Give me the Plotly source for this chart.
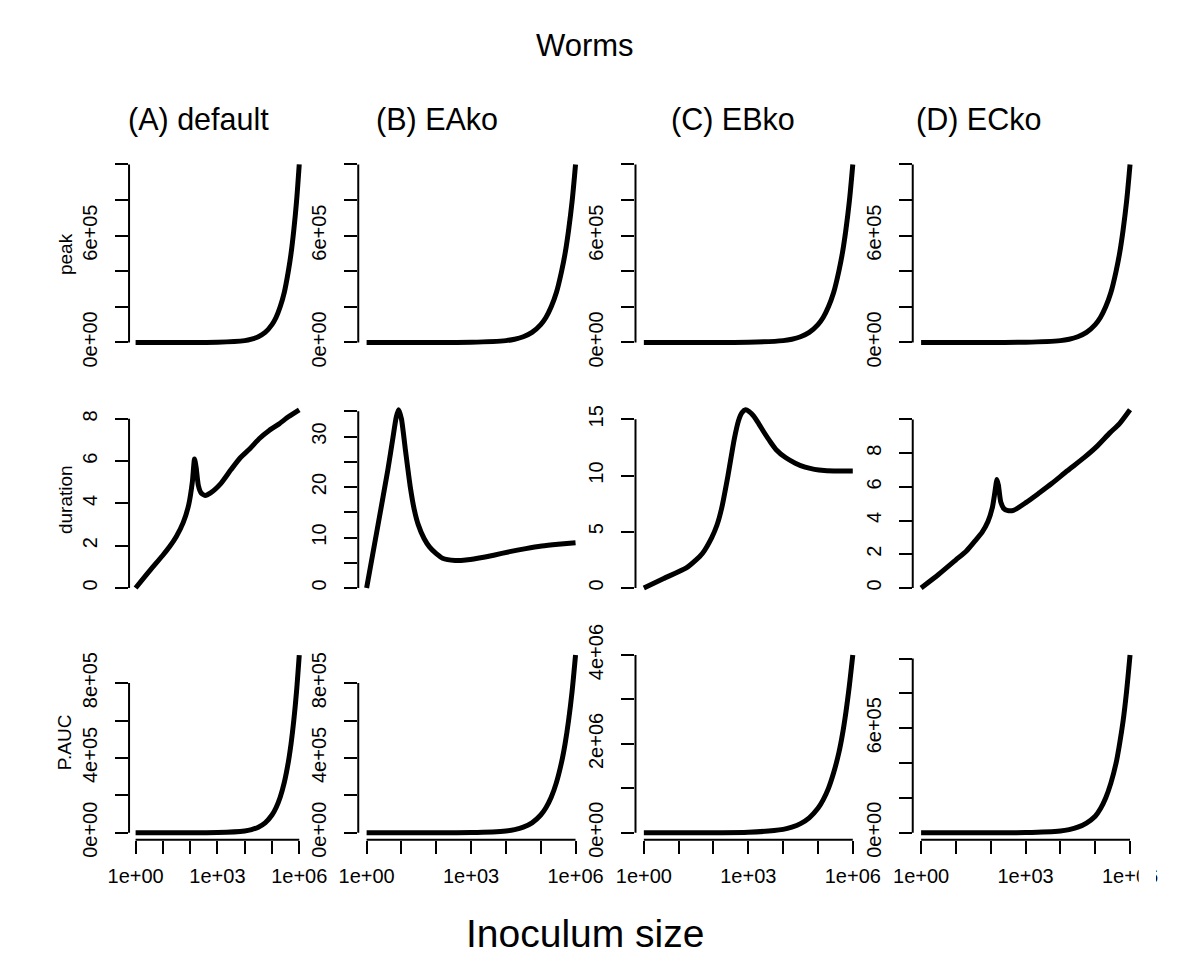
import math
import plotly.graph_objects as go

FONT = "Liberation Sans, Arial, Helvetica, sans-serif"
W, H = 1178, 980

panel_titles = ["(A) default", "(B) EAko", "(C) EBko", "(D) ECko"]
metric_names = ["peak", "duration", "P.AUC"]

# inoculum sizes for the peak and P.AUC curves
inoc_grid = [1, 10, 100, 1000, 1e4, 1.78e4, 3.16e4, 5.62e4, 1e5, 1.41e5, 2e5,
             2.82e5, 3.98e5, 5.01e5, 6.31e5, 7.94e5, 1e6]

peak_A = [1, 10, 100, 1000, 1.0e4, 1.8e4, 3.2e4, 5.6e4, 1.0e5, 1.4e5, 2.0e5,
          2.8e5, 4.0e5, 5.0e5, 6.3e5, 7.9e5, 1.0e6]
peak_B = [1, 10, 100, 1000, 1.0e4, 1.8e4, 3.2e4, 5.6e4, 1.0e5, 1.4e5, 2.0e5,
          2.8e5, 4.0e5, 5.0e5, 6.3e5, 7.9e5, 1.0e6]
peak_C = [1, 10, 100, 1000, 1.0e4, 1.8e4, 3.2e4, 5.6e4, 1.0e5, 1.4e5, 2.0e5,
          2.8e5, 4.0e5, 5.0e5, 6.3e5, 7.9e5, 1.0e6]
peak_D = [1, 10, 100, 1000, 1.0e4, 1.8e4, 3.2e4, 5.6e4, 1.0e5, 1.4e5, 2.0e5,
          2.8e5, 4.0e5, 5.0e5, 6.3e5, 7.9e5, 1.0e6]

pauc_A = [1, 10, 95, 950, 9.5e3, 1.7e4, 3.0e4, 5.3e4, 9.5e4, 1.34e5, 1.9e5,
          2.68e5, 3.78e5, 4.76e5, 6.0e5, 7.54e5, 9.5e5]
pauc_B = [1, 10, 95, 950, 9.5e3, 1.7e4, 3.0e4, 5.3e4, 9.5e4, 1.34e5, 1.9e5,
          2.68e5, 3.78e5, 4.76e5, 6.0e5, 7.54e5, 9.5e5]
pauc_C = [28, 200, 1450, 1.05e4, 7.6e4, 1.25e5, 2.05e5, 3.36e5, 5.5e5, 7.4e5, 1.0e6,
          1.35e6, 1.8e6, 2.2e6, 2.7e6, 3.3e6, 4.0e6]
pauc_D = [1, 10, 100, 1000, 1.0e4, 1.8e4, 3.2e4, 5.6e4, 9.5e4, 1.38e5, 2.0e5,
          2.85e5, 4.0e5, 5.1e5, 6.4e5, 8.1e5, 1.02e6]

# duration curves (inoculum, days)
dur_A_x = [1, 3.2, 10, 17.8, 31.6, 56, 89, 120, 145, 166, 200, 251, 355, 562,
           1350, 3160, 6900, 1.58e4, 3.47e4, 7.9e4, 1.78e5, 4.0e5, 1e6]
dur_A = [0, 0.8, 1.55, 1.96, 2.45, 3.1, 3.95, 5.0, 6.1, 5.7, 4.85, 4.5, 4.38, 4.5,
         4.95, 5.6, 6.16, 6.6, 7.07, 7.45, 7.75, 8.1, 8.43]

dur_B_x = [1, 2.14, 4.07, 5.62, 7.08, 8.32, 10, 13.2, 17.8, 23.4, 30.2, 44.7, 64.6,
           100, 151, 347, 708, 1550, 4470, 1.29e4, 3.72e4, 1.07e5, 3.16e5, 1e6]
dur_B = [0, 12.6, 23.4, 29.5, 33.8, 35.3, 33.5, 27.0, 20.2, 15.5, 12.6, 9.8, 8.1,
         6.8, 5.9, 5.46, 5.55, 5.9, 6.5, 7.2, 7.8, 8.3, 8.65, 8.96]

dur_C_x = [1, 3.72, 16.6, 31.6, 47.9, 89, 126, 170, 257, 398, 525, 661, 832, 1050,
           1410, 2000, 2820, 4070, 6310, 1.17e4, 2.24e4, 4.27e4, 7.94e4, 1.51e5, 3.98e5, 1e6]
dur_C = [0, 0.85, 1.79, 2.5, 3.07, 4.49, 5.6, 7.05, 9.9, 13.3, 14.9, 15.6, 15.85, 15.7,
         15.3, 14.6, 13.85, 13.1, 12.3, 11.6, 11.1, 10.74, 10.55, 10.45, 10.4, 10.4]

dur_D_x = [1, 3.16, 10, 20, 35.5, 56.2, 83.2, 112, 132, 151, 166, 195, 240, 295, 447,
           1050, 2510, 5750, 1.58e4, 4.79e4, 1.12e5, 2.63e5, 5.0e5, 1e6]
dur_D = [0, 0.8, 1.67, 2.2, 2.8, 3.3, 3.94, 4.8, 5.7, 6.44, 6.1, 5.08, 4.7, 4.6, 4.6,
         5.08, 5.65, 6.21, 6.95, 7.73, 8.4, 9.2, 9.75, 10.57]

x_ticks = [1, 10, 100, 1e3, 1e4, 1e5, 1e6]
x_ticktext = ["1e+00", "", "", "1e+03", "", "", "1e+06"]

# y tick positions and labels for each panel, row by row
ytick_sets = [
    [([0, 2e5, 4e5, 6e5, 8e5, 1e6], ["0e+00", "", "", "6e+05", "", ""])] * 4,
    [([0, 2, 4, 6, 8], ["0", "2", "4", "6", "8"]),
     ([0, 5, 10, 15, 20, 25, 30, 35], ["0", "", "10", "", "20", "", "30", ""]),
     ([0, 5, 10, 15], ["0", "5", "10", "15"]),
     ([0, 2, 4, 6, 8, 10], ["0", "2", "4", "6", "8", ""])],
    [([0, 2e5, 4e5, 6e5, 8e5], ["0e+00", "", "4e+05", "", "8e+05"]),
     ([0, 2e5, 4e5, 6e5, 8e5], ["0e+00", "", "4e+05", "", "8e+05"]),
     ([0, 1e6, 2e6, 3e6, 4e6], ["0e+00", "", "2e+06", "", "4e+06"]),
     ([0, 2e5, 4e5, 6e5, 8e5, 1e6], ["0e+00", "", "", "6e+05", "", ""])],
]

series = [
    [(inoc_grid, peak_A), (inoc_grid, peak_B), (inoc_grid, peak_C), (inoc_grid, peak_D)],
    [(dur_A_x, dur_A), (dur_B_x, dur_B), (dur_C_x, dur_C), (dur_D_x, dur_D)],
    [(inoc_grid, pauc_A), (inoc_grid, pauc_B), (inoc_grid, pauc_C), (inoc_grid, pauc_D)],
]
row_smoothing = [0.9, 0.6, 0.9]

# plot regions in pixels (left/right, top/bottom)
col_px = [(111.2, 294.8), (349.3, 583.7), (637.3, 871.7), (925.3, 1159.7)]
row_px = [(139.3, 340.1), (395.6, 596.7), (651.9, 852.4)]

TICK_FONT = dict(family=FONT, size=20, color="black")

fig = go.Figure()
layout = dict(
    width=W, height=H,
    margin=dict(l=0, r=0, t=0, b=0),
    paper_bgcolor="white", plot_bgcolor="white",
    showlegend=False,
    font=dict(family=FONT, size=20, color="black"),
)
shapes = []
annotations = []

for r in range(3):
    for c in range(4):
        k = r * 4 + c + 1
        sx = "" if k == 1 else str(k)
        xs, ys = series[r][c]
        fig.add_trace(go.Scatter(
            x=xs, y=ys, mode="lines",
            line=dict(color="black", width=5, shape="spline", smoothing=row_smoothing[r]),
            xaxis="x" + sx, yaxis="y" + sx, hoverinfo="skip",
        ))
        lx0, lx1 = math.log10(min(xs)), math.log10(max(xs))
        px = 0.04 * (lx1 - lx0)
        y0, y1 = min(ys), max(ys)
        py = 0.04 * (y1 - y0)
        tv, tt = ytick_sets[r][c]
        bottom = (r == 2)
        layout["xaxis" + sx] = dict(
            type="log", range=[lx0 - px, lx1 + px],
            domain=[col_px[c][0] / W, col_px[c][1] / W],
            anchor="y" + sx,
            showgrid=False, zeroline=False, showline=False,
            ticks="outside" if bottom else "", ticklen=13, tickwidth=2, tickcolor="black",
            tickvals=x_ticks, ticktext=x_ticktext,
            showticklabels=bottom, ticklabelstandoff=5,
            tickfont=TICK_FONT,
        )
        layout["yaxis" + sx] = dict(
            range=[y0 - py, y1 + py],
            domain=[1 - row_px[r][1] / H, 1 - row_px[r][0] / H],
            anchor="x" + sx,
            showgrid=False, zeroline=False, showline=False,
            ticks="outside", ticklen=13, tickwidth=2, tickcolor="black",
            tickvals=tv, ticktext=tt, tickangle=-90, ticklabelstandoff=10,
            tickfont=TICK_FONT,
        )
        # axis lines run only from the first to the last tick
        shapes.append(dict(
            type="line", xref="x" + sx + " domain", x0=0, x1=0,
            yref="y" + sx, y0=tv[0], y1=tv[-1],
            line=dict(color="black", width=2), layer="above",
        ))
        if bottom:
            shapes.append(dict(
                type="line", xref="x" + sx, x0=x_ticks[0], x1=x_ticks[-1],
                yref="y" + sx + " domain", y0=0, y1=0,
                line=dict(color="black", width=2), layer="above",
            ))

# the last panel's figure region clips its right-most tick label
shapes.append(dict(type="rect", xref="paper", yref="paper",
                   x0=1160 / W, x1=1.0, y0=1 - 915 / H, y1=1 - 870 / H,
                   fillcolor="white", line=dict(width=0), layer="above"))

# outer titles
annotations.append(dict(text="Worms", x=585 / W, y=1 - 22 / H, xref="paper", yref="paper",
                        showarrow=False, font=dict(family=FONT, size=31, color="black"),
                        xanchor="center", yanchor="middle"))
for name, cx in zip(panel_titles, [183, 431, 739, 994]):
    annotations.append(dict(text=name, x=cx / W, y=1 - 100 / H, xref="paper", yref="paper",
                            showarrow=False, font=dict(family=FONT, size=30.5, color="black"),
                            xanchor="center", yanchor="middle"))
for name, cy in zip(metric_names, [240, 497, 750]):
    annotations.append(dict(text=name, x=45 / W, y=1 - cy / H, xref="paper", yref="paper",
                            showarrow=False, textangle=-90,
                            font=dict(family=FONT, size=19, color="black"),
                            xanchor="center", yanchor="middle"))
annotations.append(dict(text="Inoculum size", x=585 / W, y=1 - 950 / H, xref="paper", yref="paper",
                        showarrow=False, font=dict(family=FONT, size=39, color="black"),
                        xanchor="center", yanchor="middle"))

layout["shapes"] = shapes
layout["annotations"] = annotations
fig.update_layout(**layout)
fig.write_html("out.html")
